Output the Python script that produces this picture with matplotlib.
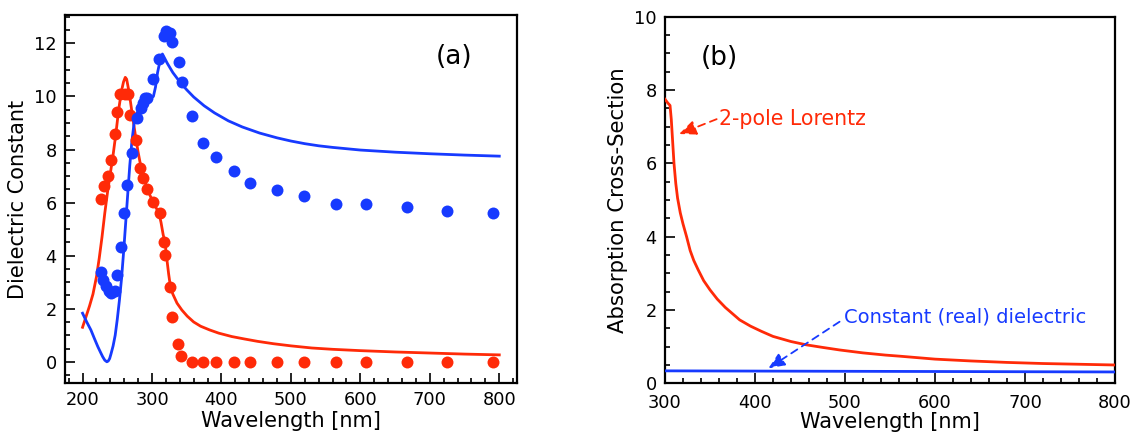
import matplotlib
matplotlib.use("Agg")
import matplotlib.pyplot as plt
from matplotlib.ticker import MultipleLocator

# ---- panel (a): measured dielectric constant and 2-pole Lorentz fit ----
real_wl = [226.7, 231.6, 236.4, 241.3, 246.2, 249.6, 253.4, 260.7, 265.6, 268.5,
           276.3, 282.6, 287.5, 292.3, 302.0, 311.8, 317.6, 319.0, 326.3, 328.8,
           337.5, 342.4, 357.0, 374.0, 392.0, 417.7, 440.5, 479.4, 519.2, 564.4,
           608.2, 667.4, 724.8, 790.4]
real_eps = [6.14, 6.62, 7.02, 7.60, 8.59, 9.43, 10.11, 10.11, 10.11, 9.30,
            8.36, 7.31, 6.91, 6.52, 6.01, 5.61, 4.50, 4.01, 2.81, 1.68,
            0.67, 0.21, 0.0, 0.0, 0.0, 0.0, 0.0, 0.0, 0.0, 0.0,
            0.0, 0.0, 0.0, 0.0]

imag_wl = [226.7, 229.2, 234.0, 237.4, 241.3, 246.2, 249.6, 254.9, 259.8, 264.6,
           270.5, 277.7, 284.1, 287.5, 289.9, 293.3, 302.0, 310.3, 316.6, 320.0,
           325.4, 328.8, 338.5, 343.3, 357.0, 374.0, 392.0, 417.7, 440.5, 479.4,
           519.2, 564.4, 608.2, 667.4, 724.8, 790.4]
imag_eps = [3.40, 3.09, 2.84, 2.65, 2.58, 2.65, 3.28, 4.32, 5.61, 6.68,
            7.85, 9.17, 9.58, 9.77, 9.96, 9.96, 10.65, 11.41, 12.26, 12.48,
            12.41, 12.06, 11.30, 10.55, 9.26, 8.23, 7.71, 7.18, 6.74, 6.46,
            6.24, 5.96, 5.96, 5.82, 5.67, 5.61]

fit_real_wl = [200, 205, 210, 215, 220, 224, 228, 232, 236, 240, 244, 248, 252,
               256, 259, 261.5, 263.5, 266, 269, 272, 276, 280, 284, 289, 295,
               300, 305, 310, 313, 316, 319, 321.7, 324, 326.5, 330, 336, 343,
               350.7, 360, 370, 383, 396, 415, 433, 452, 475, 500, 530, 560,
               600, 650, 700, 750, 800]
fit_real_eps = [1.30, 1.7, 2.1, 2.55, 3.2, 3.9, 4.7, 5.6, 6.4, 7.1, 7.8, 8.6, 9.5,
                10.2, 10.55, 10.72, 10.65, 10.3, 9.8, 9.25, 8.55, 7.9, 7.35, 6.85, 6.4,
                6.1, 5.85, 5.6, 5.25, 4.8, 4.45, 3.8, 3.3, 2.84, 2.55, 2.21, 1.95,
                1.72, 1.5, 1.34, 1.2, 1.08, 0.95, 0.86, 0.77, 0.68, 0.6, 0.52, 0.47,
                0.42, 0.37, 0.33, 0.29, 0.26]

fit_imag_wl = [200, 206, 212, 217, 222, 226, 229, 232, 235, 237, 239, 241, 244,
               247, 250, 253, 256, 259, 262, 265, 268, 271, 274, 277, 281, 286,
               293, 299, 302, 305, 308, 312, 315, 322, 330, 340, 350, 360, 375,
               390, 410, 430, 455, 480, 500, 520, 540, 560, 600, 650, 700, 750,
               800]
fit_imag_eps = [1.83, 1.5, 1.2, 0.88, 0.57, 0.35, 0.19, 0.06, 0.0, 0.03, 0.12, 0.3,
                0.6, 1.0, 1.6, 2.3, 3.1, 4.1, 5.2, 6.3, 7.4, 8.3, 8.95, 9.3, 9.5, 9.65,
                9.85, 9.95, 10.0, 10.35, 10.9, 11.4, 11.6, 11.25, 10.9, 10.55, 10.25,
                9.98, 9.65, 9.38, 9.08, 8.85, 8.62, 8.44, 8.32, 8.22, 8.14, 8.08,
                7.98, 7.9, 7.84, 7.79, 7.75]

# ---- panel (b): absorption cross-section ----
lorentz_wl = [300, 303, 305.6, 307, 308.5, 310, 312, 314, 317, 320, 324, 328, 332,
              337, 343, 350, 358, 367, 375, 383, 395, 407, 420, 440, 457, 475,
              494, 520, 545, 561, 600, 640, 680, 720, 760, 800]
lorentz_sigma = [7.75, 7.65, 7.58, 7.2, 6.6, 6.0, 5.45, 5.05, 4.65, 4.35, 4.0, 3.62,
                 3.35, 3.09, 2.8, 2.55, 2.3, 2.07, 1.9, 1.73, 1.56, 1.42, 1.28, 1.14,
                 1.05, 0.98, 0.91, 0.83, 0.77, 0.74, 0.66, 0.61, 0.57, 0.54, 0.52,
                 0.50]

const_wl = [300, 800]
const_sigma = [0.34, 0.31]

RED = "#ff2a08"
BLUE = "#173aff"

plt.rcParams["font.family"] = ["DejaVu Sans"]

fig = plt.figure(figsize=(11.42, 4.41), dpi=100)
ax_a = fig.add_axes([0.0569, 0.1315, 0.3955, 0.8345])
ax_b = fig.add_axes([0.5823, 0.1308, 0.3940, 0.8313])


def style_axes(ax, xpad=6):
    for s in ax.spines.values():
        s.set_linewidth(1.6)
        s.set_color("black")
    ax.tick_params(which="both", direction="in", top=False, right=False,
                   labelsize=12.8, width=1.2, color="black")
    ax.tick_params(which="major", length=7, pad=6)
    ax.tick_params(axis="x", which="major", pad=xpad)
    ax.tick_params(which="minor", length=3.5)
    ax.xaxis.set_major_locator(MultipleLocator(100))
    ax.xaxis.set_minor_locator(MultipleLocator(20))
    ax.yaxis.set_major_locator(MultipleLocator(2))
    ax.yaxis.set_minor_locator(MultipleLocator(0.5))


# panel (a)
style_axes(ax_a)
ax_a.plot(fit_real_wl, fit_real_eps, color=RED, lw=2.0, zorder=3)
ax_a.plot(fit_imag_wl, fit_imag_eps, color=BLUE, lw=2.0, zorder=3)
ax_a.plot(real_wl, real_eps, "o", color=RED, ms=8.6, mew=0, zorder=4)
ax_a.plot(imag_wl, imag_eps, "o", color=BLUE, ms=8.6, mew=0, zorder=4)
ax_a.set_xlim(174.7, 825)
ax_a.set_ylim(-0.8, 13.07)
ax_a.set_xlabel("Wavelength [nm]", fontsize=15, labelpad=1)
ax_a.set_ylabel("Dielectric Constant", fontsize=15, labelpad=4)
ax_a.text(735, 11.5, "(a)", fontsize=19, ha="center", va="center")

# panel (b)
style_axes(ax_b, xpad=8)
ax_b.plot(lorentz_wl, lorentz_sigma, color=RED, lw=2.0, zorder=3)
ax_b.plot(const_wl, const_sigma, color=BLUE, lw=2.0, zorder=3)
ax_b.set_xlim(300, 800)
ax_b.set_ylim(0, 10)
ax_b.set_xlabel("Wavelength [nm]", fontsize=15, labelpad=0)
ax_b.set_ylabel("Absorption Cross-Section", fontsize=15.3, labelpad=4)
ax_b.text(360, 8.87, "(b)", fontsize=19, ha="center", va="center")

arrow_kw = dict(arrowstyle="-|>,head_length=0.7,head_width=0.3",
                linestyle=(0, (4, 3)), lw=1.3, shrinkA=0, shrinkB=0)
ax_b.annotate("2-pole Lorentz", xy=(315.7, 6.80), xytext=(360.5, 7.22),
              color=RED, fontsize=14.8, ha="left", va="center",
              arrowprops=dict(color=RED, relpos=(-0.01, 0.5), **arrow_kw))
ax_b.annotate("Constant (real) dielectric", xy=(415, 0.41), xytext=(499.4, 1.81),
              color=BLUE, fontsize=14, ha="left", va="center",
              arrowprops=dict(color=BLUE, relpos=(-0.02, 0.25), **arrow_kw))

fig.savefig("out.png", dpi=100)
